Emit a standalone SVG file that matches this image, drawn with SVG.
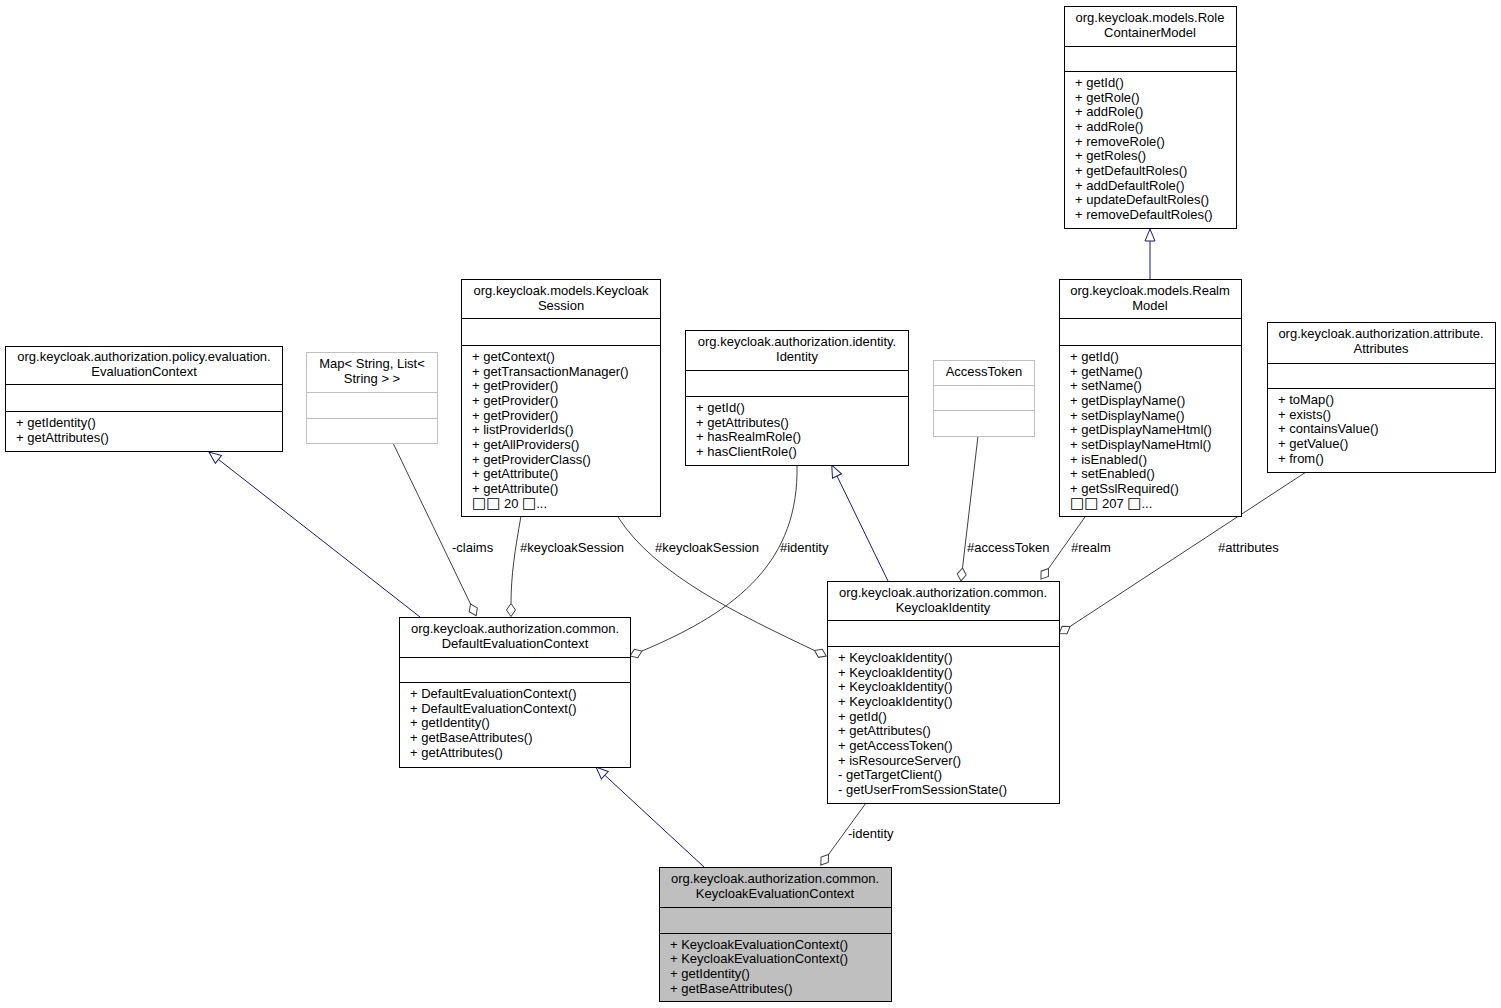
<svg xmlns="http://www.w3.org/2000/svg" width="1501" height="1008" viewBox="0 0 1501 1008">
<style>
text{font-family:"Liberation Sans",Arial,Helvetica,sans-serif;font-size:13px;fill:#000}
.t{text-anchor:middle}
.sq{font-family:"DejaVu Sans",sans-serif;font-size:15px}
.box{fill:#fff;stroke:#000;stroke-width:1}
.gbox{fill:#fff;stroke:#bfbfbf;stroke-width:1}
.cur{fill:#bfbfbf;stroke:#000;stroke-width:1}
.div{stroke:#000;stroke-width:1}
.gdiv{stroke:#bfbfbf;stroke-width:1}
.gen{fill:none;stroke:#191970;stroke-width:1;marker-end:url(#tri)}
.agg{fill:none;stroke:#404040;stroke-width:1;marker-end:url(#dia)}
</style>
<defs>
<marker id="tri" markerUnits="userSpaceOnUse" markerWidth="16" markerHeight="14" viewBox="-2 -7 16 14" refX="0" refY="0" orient="auto" overflow="visible">
<path d="M0,-5 L12,0 L0,5 Z" fill="#fff" stroke="#191970" stroke-width="1"/>
</marker>
<marker id="dia" markerUnits="userSpaceOnUse" markerWidth="17" markerHeight="12" viewBox="-2 -6 17 12" refX="0" refY="0" orient="auto" overflow="visible">
<path d="M0,0 L6.5,-4.5 L13,0 L6.5,4.5 Z" fill="#fff" stroke="#404040" stroke-width="1"/>
</marker>
</defs>
<rect width="1501" height="1008" fill="#fff"/>

<g id="connectors">
<path class="gen" d="M420,617 L218.4,459.4"/>
<path class="gen" d="M888,581 L837,476"/>
<path class="gen" d="M1150,279 L1150,241"/>
<path class="gen" d="M704,867 L604.8,775.2"/>
<path class="agg" d="M393,443 L470.5,604"/>
<path class="agg" d="M521,516 C515,550 511,575 511,603.5"/>
<path class="agg" d="M618,517 C655,575 740,615 814.5,650.5"/>
<path class="agg" d="M797,465 C799,560 740,610 642,651"/>
<path class="agg" d="M978,436 L962.5,568"/>
<path class="agg" d="M1085,517 L1048.5,568.5"/>
<path class="agg" d="M1306,472 L1070,626.5"/>
<path class="agg" d="M866,803 L828.5,854.5"/>
<text x="452" y="552">-claims</text>
<text x="520" y="552">#keycloakSession</text>
<text x="655" y="552">#keycloakSession</text>
<text x="780" y="552">#identity</text>
<text x="967" y="552">#accessToken</text>
<text x="1071" y="552">#realm</text>
<text x="1218" y="552">#attributes</text>
<text x="848" y="838">-identity</text>
</g>

<g id="RoleContainerModel">
<rect class="box" x="1064.5" y="6.5" width="172" height="222"/>
<line class="div" x1="1064.5" y1="46.5" x2="1236.5" y2="46.5"/>
<line class="div" x1="1064.5" y1="71.5" x2="1236.5" y2="71.5"/>
<text class="t" x="1150" y="22">org.keycloak.models.Role</text>
<text class="t" x="1150" y="36.6">ContainerModel</text>
<text x="1075" y="87">+ getId()</text>
<text x="1075" y="101.7">+ getRole()</text>
<text x="1075" y="116.3">+ addRole()</text>
<text x="1075" y="131">+ addRole()</text>
<text x="1075" y="145.7">+ removeRole()</text>
<text x="1075" y="160.3">+ getRoles()</text>
<text x="1075" y="175">+ getDefaultRoles()</text>
<text x="1075" y="189.7">+ addDefaultRole()</text>
<text x="1075" y="204.3">+ updateDefaultRoles()</text>
<text x="1075" y="219">+ removeDefaultRoles()</text>
</g>

<g id="RealmModel">
<rect class="box" x="1059.5" y="279.5" width="182" height="237"/>
<line class="div" x1="1059.5" y1="318.5" x2="1241.5" y2="318.5"/>
<line class="div" x1="1059.5" y1="345.5" x2="1241.5" y2="345.5"/>
<text class="t" x="1150" y="295">org.keycloak.models.Realm</text>
<text class="t" x="1150" y="309.6">Model</text>
<text x="1070" y="361">+ getId()</text>
<text x="1070" y="375.7">+ getName()</text>
<text x="1070" y="390.3">+ setName()</text>
<text x="1070" y="405">+ getDisplayName()</text>
<text x="1070" y="419.7">+ setDisplayName()</text>
<text x="1070" y="434.3">+ getDisplayNameHtml()</text>
<text x="1070" y="449">+ setDisplayNameHtml()</text>
<text x="1070" y="463.7">+ isEnabled()</text>
<text x="1070" y="478.3">+ setEnabled()</text>
<text x="1070" y="493">+ getSslRequired()</text>
<text x="1070" y="508"><tspan class="sq">□□</tspan> 207 <tspan class="sq">□</tspan>...</text>
</g>

<g id="KeycloakSession">
<rect class="box" x="461.5" y="279.5" width="199" height="237"/>
<line class="div" x1="461.5" y1="318.5" x2="660.5" y2="318.5"/>
<line class="div" x1="461.5" y1="345.5" x2="660.5" y2="345.5"/>
<text class="t" x="561" y="295">org.keycloak.models.Keycloak</text>
<text class="t" x="561" y="309.6">Session</text>
<text x="472" y="361">+ getContext()</text>
<text x="472" y="375.7">+ getTransactionManager()</text>
<text x="472" y="390.3">+ getProvider()</text>
<text x="472" y="405">+ getProvider()</text>
<text x="472" y="419.7">+ getProvider()</text>
<text x="472" y="434.3">+ listProviderIds()</text>
<text x="472" y="449">+ getAllProviders()</text>
<text x="472" y="463.7">+ getProviderClass()</text>
<text x="472" y="478.3">+ getAttribute()</text>
<text x="472" y="493">+ getAttribute()</text>
<text x="472" y="508"><tspan class="sq">□□</tspan> 20 <tspan class="sq">□</tspan>...</text>
</g>

<g id="Identity">
<rect class="box" x="685.5" y="330.5" width="223" height="135"/>
<line class="div" x1="685.5" y1="370.5" x2="908.5" y2="370.5"/>
<line class="div" x1="685.5" y1="396.5" x2="908.5" y2="396.5"/>
<text class="t" x="797" y="346">org.keycloak.authorization.identity.</text>
<text class="t" x="797" y="360.6">Identity</text>
<text x="696" y="412">+ getId()</text>
<text x="696" y="426.7">+ getAttributes()</text>
<text x="696" y="441.3">+ hasRealmRole()</text>
<text x="696" y="456">+ hasClientRole()</text>
</g>

<g id="AccessToken">
<rect class="gbox" x="933.5" y="360.5" width="101" height="76"/>
<line class="gdiv" x1="933.5" y1="385.5" x2="1034.5" y2="385.5"/>
<line class="gdiv" x1="933.5" y1="410.5" x2="1034.5" y2="410.5"/>
<text class="t" x="984" y="376">AccessToken</text>
</g>

<g id="EvaluationContext">
<rect class="box" x="5.5" y="346.5" width="277" height="105"/>
<line class="div" x1="5.5" y1="384.5" x2="282.5" y2="384.5"/>
<line class="div" x1="5.5" y1="411.5" x2="282.5" y2="411.5"/>
<text class="t" x="144" y="361">org.keycloak.authorization.policy.evaluation.</text>
<text class="t" x="144" y="375.6">EvaluationContext</text>
<text x="16" y="427">+ getIdentity()</text>
<text x="16" y="441.7">+ getAttributes()</text>
</g>

<g id="MapClaims">
<rect class="gbox" x="306.5" y="352.5" width="131" height="91"/>
<line class="gdiv" x1="306.5" y1="392.5" x2="437.5" y2="392.5"/>
<line class="gdiv" x1="306.5" y1="418.5" x2="437.5" y2="418.5"/>
<text class="t" x="372" y="368">Map&lt; String, List&lt;</text>
<text class="t" x="372" y="382.6">String &gt; &gt;</text>
</g>

<g id="Attributes">
<rect class="box" x="1267.5" y="322.5" width="228" height="150"/>
<line class="div" x1="1267.5" y1="363.5" x2="1495.5" y2="363.5"/>
<line class="div" x1="1267.5" y1="388.5" x2="1495.5" y2="388.5"/>
<text class="t" x="1381" y="338">org.keycloak.authorization.attribute.</text>
<text class="t" x="1381" y="352.6">Attributes</text>
<text x="1278" y="404">+ toMap()</text>
<text x="1278" y="418.7">+ exists()</text>
<text x="1278" y="433.3">+ containsValue()</text>
<text x="1278" y="448">+ getValue()</text>
<text x="1278" y="462.7">+ from()</text>
</g>

<g id="DefaultEvaluationContext">
<rect class="box" x="399.5" y="617.5" width="231" height="150"/>
<line class="div" x1="399.5" y1="657.5" x2="630.5" y2="657.5"/>
<line class="div" x1="399.5" y1="682.5" x2="630.5" y2="682.5"/>
<text class="t" x="515" y="633">org.keycloak.authorization.common.</text>
<text class="t" x="515" y="647.6">DefaultEvaluationContext</text>
<text x="410" y="698">+ DefaultEvaluationContext()</text>
<text x="410" y="712.7">+ DefaultEvaluationContext()</text>
<text x="410" y="727.3">+ getIdentity()</text>
<text x="410" y="742">+ getBaseAttributes()</text>
<text x="410" y="756.7">+ getAttributes()</text>
</g>

<g id="KeycloakIdentity">
<rect class="box" x="827.5" y="581.5" width="232" height="222"/>
<line class="div" x1="827.5" y1="620.5" x2="1059.5" y2="620.5"/>
<line class="div" x1="827.5" y1="646.5" x2="1059.5" y2="646.5"/>
<text class="t" x="943" y="597">org.keycloak.authorization.common.</text>
<text class="t" x="943" y="611.6">KeycloakIdentity</text>
<text x="838" y="662">+ KeycloakIdentity()</text>
<text x="838" y="676.7">+ KeycloakIdentity()</text>
<text x="838" y="691.3">+ KeycloakIdentity()</text>
<text x="838" y="706">+ KeycloakIdentity()</text>
<text x="838" y="720.7">+ getId()</text>
<text x="838" y="735.3">+ getAttributes()</text>
<text x="838" y="750">+ getAccessToken()</text>
<text x="838" y="764.7">+ isResourceServer()</text>
<text x="838" y="779.3">- getTargetClient()</text>
<text x="838" y="794">- getUserFromSessionState()</text>
</g>

<g id="KeycloakEvaluationContext">
<rect class="cur" x="659.5" y="867.5" width="232" height="134"/>
<line class="div" x1="659.5" y1="907.5" x2="891.5" y2="907.5"/>
<line class="div" x1="659.5" y1="933.5" x2="891.5" y2="933.5"/>
<text class="t" x="775" y="883">org.keycloak.authorization.common.</text>
<text class="t" x="775" y="897.6">KeycloakEvaluationContext</text>
<text x="670" y="948.5">+ KeycloakEvaluationContext()</text>
<text x="670" y="963.2">+ KeycloakEvaluationContext()</text>
<text x="670" y="977.8">+ getIdentity()</text>
<text x="670" y="992.5">+ getBaseAttributes()</text>
</g>
</svg>
